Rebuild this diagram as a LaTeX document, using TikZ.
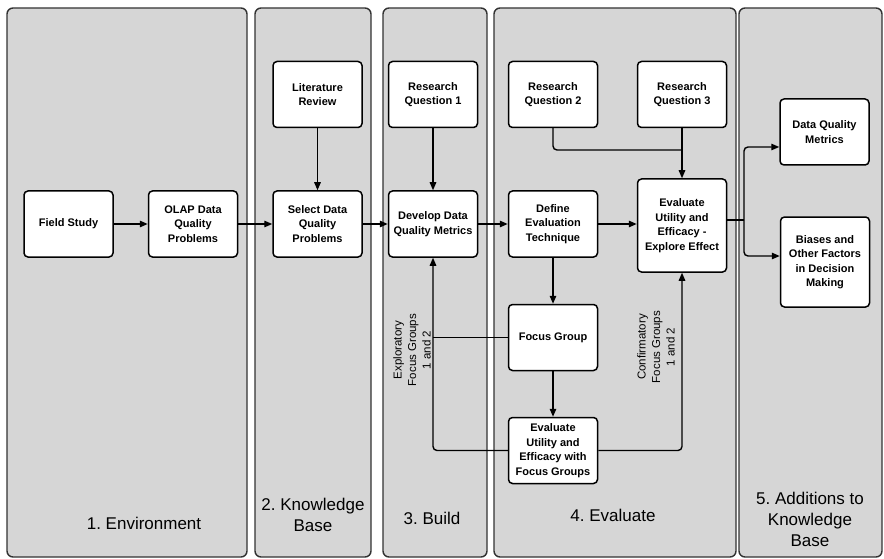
\documentclass[tikz,border=0pt]{standalone}
\usepackage{fontspec}
\setmainfont{Liberation Sans}
\usetikzlibrary{arrows.meta}
\definecolor{panelGray}{RGB}{214,214,214}
\definecolor{panelEdge}{RGB}{50,50,50}

\begin{document}
\frenchspacing
\begin{tikzpicture}[x=1pt,y=-1pt,
    panel/.style={fill=panelGray,draw=panelEdge,line width=1.4pt,rounded corners=6pt},
    stepbox/.style={draw,fill=white,line width=1.5pt,rounded corners=4pt,align=center,
      minimum width=89pt,minimum height=66pt,inner sep=2pt,
      font=\fontsize{11}{14.5}\selectfont\bfseries},
    phase/.style={font=\fontsize{17}{21}\selectfont,align=center},
    sidenote/.style={font=\fontsize{11.5}{14.5}\selectfont,align=center,rotate=90},
    link/.style={line width=1.4pt,rounded corners=4pt},
    flow/.style={link,-{Triangle[length=8pt,width=6.5pt]}}]
  \useasboundingbox (0,0) rectangle (884,559);

  % Panels
  \draw[panel] (7,8) rectangle (247,557);
  \draw[panel] (255,8) rectangle (371,557);
  \draw[panel] (383,8) rectangle (487,557);
  \draw[panel] (494,8) rectangle (736,557);
  \draw[panel] (739,8) rectangle (882,557);

  \node[phase] (env) at (144,523) {1. Environment};
  \node[phase] (kbase) at (313,515) {2. Knowledge\\Base};
  \node[phase] (build) at (432,518) {3. Build};
  \node[phase] (evaluate) at (613,515) {4. Evaluate};
  \node[phase] (additions) at (810,519) {5. Additions to\\Knowledge\\Base};

  % Environment and knowledge base
  \node[stepbox] (field) at (68.5,224) {Field Study};
  \node[stepbox] (olap) at (193,224) {OLAP Data\\Quality\\Problems};
  \node[stepbox] (lit) at (317.5,94.5) {Literature\\Review};
  \node[stepbox] (select) at (317.5,224) {Select Data\\Quality\\Problems};

  % Build
  \node[stepbox] (rq1) at (433,94.5) {Research\\Question 1};
  \node[stepbox] (develop) at (433,224) {Develop Data\\Quality Metrics};

  % Evaluate
  \node[stepbox] (rq2) at (553,94.5) {Research\\Question 2};
  \node[stepbox] (rq3) at (682,94.5) {Research\\Question 3};
  \node[stepbox] (define) at (553,224) {Define\\Evaluation\\Technique};
  \node[stepbox,minimum height=93pt] (explore) at (682,225.5) {Evaluate\\Utility and\\Efficacy -\\Explore Effect};
  \node[stepbox] (focus) at (553,337.5) {Focus Group};
  \node[stepbox] (withfg) at (553,450.5) {Evaluate\\Utility and\\Efficacy with\\Focus Groups};

  % Additions to knowledge base
  \node[stepbox] (metrics) at (824.5,132) {Data Quality\\Metrics};
  \node[stepbox,minimum height=90pt] (biases) at (825,262) {Biases and\\Other Factors\\in Decision\\Making};

  \coordinate (merge) at (682,150);
  \coordinate (fork) at (744,220);

  \draw[flow] (field) -- (olap);
  \draw[flow] (olap) -- (select);
  \draw[flow] (lit) -- (select);
  \draw[flow] (select) -- (develop);
  \draw[flow] (rq1) -- (develop);
  \draw[flow] (develop) -- (define);
  \draw[flow] (define.east) -- (define.east -| explore.west);
  \draw[link] (rq2.south) |- (merge);
  \draw[flow] (rq3) -- (explore);
  \draw[link] (explore.east |- fork) -- (fork);
  \draw[flow] (fork) |- ([yshift=-15pt]metrics.west);
  \draw[flow] (fork) |- ([yshift=6pt]biases.west);
  \draw[flow] (define) -- (focus);
  \draw[flow] (focus) -- (withfg);
  \draw[link] (focus.west) -- (focus.west -| develop.south);
  \draw[flow] (withfg.west) -| (develop.south);
  \draw[flow] (withfg.east) -| (explore.south);

  \node[sidenote] (explo) at (412,350) {Exploratory\\Focus Groups\\1 and 2};
  \node[sidenote] (confirm) at (656,347) {Confirmatory\\Focus Groups\\1 and 2};
\end{tikzpicture}
\end{document}
